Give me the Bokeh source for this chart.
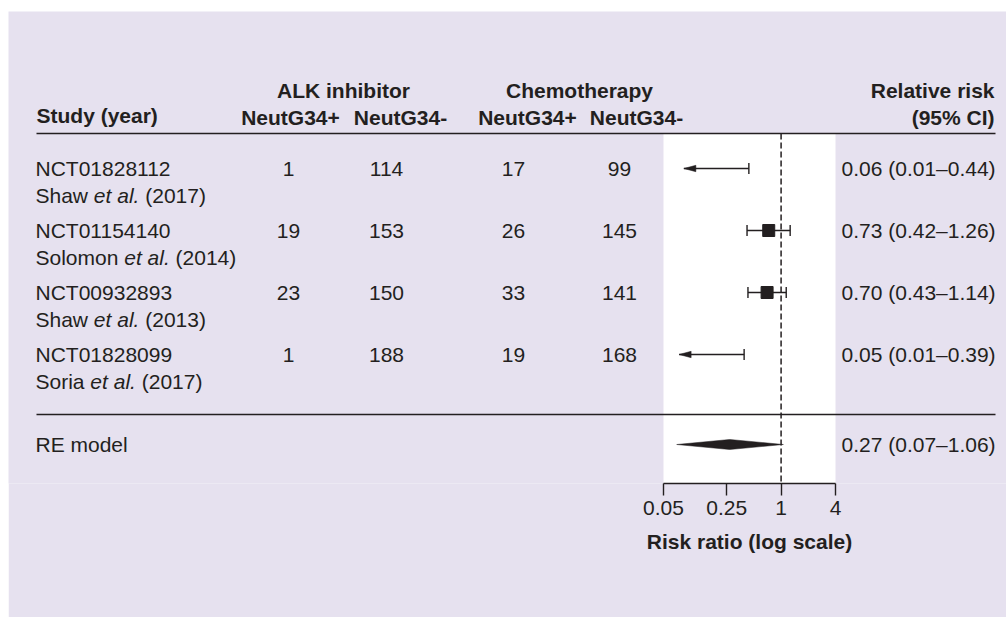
import math
from bokeh.plotting import figure
from bokeh.models import Range1d, LogScale, LogAxis, FixedTicker, Title
from bokeh.core.properties import value
from bokeh.embed import file_html
from bokeh.resources import INLINE

# ---------------- data ----------------
trial_ids = ["NCT01828112", "NCT01154140", "NCT00932893", "NCT01828099"]
authors = ["Shaw", "Solomon", "Shaw", "Soria"]
years = [2017, 2014, 2013, 2017]
alk_pos = [1, 19, 23, 1]
alk_neg = [114, 153, 150, 188]
chemo_pos = [17, 26, 33, 19]
chemo_neg = [99, 145, 141, 168]
rr_est = [0.06, 0.73, 0.70, 0.05]
rr_lo = [0.01, 0.42, 0.43, 0.01]
rr_hi = [0.44, 1.26, 1.14, 0.39]
re_label = "RE model"
re_est, re_lo, re_hi = 0.27, 0.07, 1.06
tick_values = [0.05, 0.25, 1, 4]
tick_labels = ["0.05", "0.25", "1", "4"]
axis_title = "Risk ratio (log scale)"

# ---------------- style / layout ----------------
W, H = 998, 606
FONT = "Liberation Sans"
INK = "#231F20"
BG = "#E6E1EF"
FS = "21px"
FS_PX = 21
FRAME_H = 472
ROW0_PX, ROW_STEP = 157, 62


def row_of(px):
    return (px - ROW0_PX) / ROW_STEP


# Arial / Liberation Sans advance widths (units per 1000 em)
AW = {" ": 278, "(": 333, ")": 333, ".": 278, "S": 667, "h": 556, "a": 556,
      "w": 722, "o": 556, "l": 222, "m": 833, "n": 556, "r": 333, "i": 222,
      "e": 556, "t": 278}
AWB = {" ": 278, "(": 333, ")": 333, "R": 722, "i": 278, "s": 556, "k": 556,
       "r": 389, "a": 556, "t": 333, "o": 611, "l": 278, "g": 611, "c": 556, "e": 556}


def text_w(s, table=AW):
    return sum(table.get(c, 556) for c in s) * FS_PX / 1000.0


p = figure(width=W, height=H, output_backend="svg", toolbar_location=None,
           x_axis_type=None, y_axis_type=None, margin=(11, 0, 0, 8),
           x_range=Range1d(0, W), y_range=Range1d(row_of(FRAME_H), row_of(0)),
           min_border_left=0, min_border_right=0, min_border_top=0,
           min_border_bottom=H - FRAME_H,
           background_fill_color=BG, border_fill_color=BG, outline_line_color=None)

# log-scale forest range occupying a fixed pixel span of the frame
AX_LO, AX_HI = tick_values[0], tick_values[-1]
FP0, FP1 = 655, 827
ppl = (FP1 - FP0) / math.log(AX_HI / AX_LO)
p.extra_x_ranges = {"rr": Range1d(AX_LO * math.exp(-FP0 / ppl), AX_HI * math.exp((W - FP1) / ppl))}
p.extra_x_scales = {"rr": LogScale()}

HEAD_LINE = row_of(122)
SEP = row_of(403)
RE_ROW = row_of(433)
BOTTOM = row_of(FRAME_H)

# white forest panel
p.quad(left=[AX_LO], right=[AX_HI], top=[HEAD_LINE], bottom=[BOTTOM], x_range_name="rr",
       fill_color="white", line_color=None)

# horizontal rules
p.segment(x0=[28, 28], x1=[987, 987], y0=[HEAD_LINE, SEP], y1=[HEAD_LINE, SEP],
          line_color=INK, line_width=1.5)

# null line
p.segment(x0=[1], x1=[1], y0=[HEAD_LINE], y1=[BOTTOM], x_range_name="rr",
          line_color=INK, line_width=1.5, line_dash="6 3")

rows = list(range(len(trial_ids)))
full = [i for i in rows if rr_lo[i] >= AX_LO]
trunc = [i for i in rows if rr_lo[i] < AX_LO]

# full CIs
p.segment(x0=[rr_lo[i] for i in full], x1=[rr_hi[i] for i in full],
          y0=[rows[i] for i in full], y1=[rows[i] for i in full], x_range_name="rr",
          line_color=INK, line_width=1.4)
cap_x = [rr_lo[i] for i in full] + [rr_hi[i] for i in full] + [rr_hi[i] for i in trunc]
cap_y = [rows[i] for i in full] * 2 + [rows[i] for i in trunc]
p.scatter(x=cap_x, y=cap_y, marker="dash", angle=math.pi / 2, size=11, x_range_name="rr",
          line_color=INK, line_width=1.4)
p.scatter(x=[rr_est[i] for i in full], y=[rows[i] for i in full], marker="square", size=12,
          x_range_name="rr", fill_color=INK, line_color=INK)

# truncated CIs -> arrows
ARROW_PX, HEAD_L, HEAD_HW = 65, 12, 3.2
tips = [rr_hi[i] * math.exp(-ARROW_PX / ppl) for i in trunc]
p.segment(x0=tips, x1=[rr_hi[i] for i in trunc], y0=[rows[i] for i in trunc],
          y1=[rows[i] for i in trunc], x_range_name="rr", line_color=INK, line_width=1.4)
p.patches(xs=[[t, t * math.exp(HEAD_L / ppl), t * math.exp(HEAD_L / ppl)] for t in tips],
          ys=[[rows[i], rows[i] - HEAD_HW / ROW_STEP, rows[i] + HEAD_HW / ROW_STEP] for i in trunc],
          x_range_name="rr", fill_color=INK, line_color=INK, line_width=0.5)

# RE diamond
dh = 5 / ROW_STEP
p.patch(x=[re_lo, re_est, re_hi, re_est], y=[RE_ROW, RE_ROW - dh, RE_ROW, RE_ROW + dh],
        x_range_name="rr", fill_color=INK, line_color=INK, line_width=0.5)


def txt(x, y, s, align="left", style="normal"):
    p.text(x=x, y=y, text=s, text_font=value(FONT), text_font_size=FS,
           text_font_style=style, text_color=INK, text_align=align, text_baseline="middle")


# header
H1, H2 = row_of(79), row_of(105.5)
txt([28], [row_of(104)], ["Study (year)"], style="bold")
txt([335, 571], [H1, H1], ["ALK inhibitor", "Chemotherapy"], "center", "bold")
txt([282, 392, 519, 628], [H2] * 4, ["NeutG34+", "NeutG34-", "NeutG34+", "NeutG34-"], "center", "bold")
txt([986, 986], [H1, H2], ["Relative risk", "(95% CI)"], "right", "bold")

# study names
X0 = 27
L2 = 27 / ROW_STEP
txt([X0] * len(rows), rows, trial_ids)
txt([X0] * len(rows), [r + L2 for r in rows], authors)
ital_x = [X0 + text_w(a + " ") for a in authors]
txt(ital_x, [r + L2 for r in rows], ["et al."] * len(rows), style="italic")
yr_x = [x + text_w("et al. ") for x in ital_x]
txt(yr_x, [r + L2 for r in rows], [f"({y})" for y in years])

# counts
for cx, col in zip([280, 378, 505, 611], [alk_pos, alk_neg, chemo_pos, chemo_neg]):
    txt([cx] * len(rows), rows, [str(v) for v in col], "center")

# relative risk texts
txt([833] * len(rows), rows,
    [f"{e:.2f} ({l:.2f}\u2013{h:.2f})" for e, l, h in zip(rr_est, rr_lo, rr_hi)])
txt([X0], [RE_ROW], [re_label])
txt([833], [RE_ROW], [f"{re_est:.2f} ({re_lo:.2f}\u2013{re_hi:.2f})"])

# log axis
ax = LogAxis(x_range_name="rr", bounds=(AX_LO, AX_HI),
             ticker=FixedTicker(ticks=tick_values),
             major_label_overrides={v: s for v, s in zip(tick_values, tick_labels)})
ax.axis_line_color = INK
ax.axis_line_width = 1.4
ax.major_tick_line_color = INK
ax.major_tick_line_width = 1.4
ax.major_tick_in = 0
ax.major_tick_out = 12
ax.minor_tick_line_color = None
ax.major_label_text_font = FONT
ax.major_label_text_font_size = FS
ax.major_label_text_color = INK
ax.major_label_standoff = 5
p.add_layout(ax, "below")

# axis title centred under the forest axis
t = Title(text=axis_title, align="left", offset=(FP0 + FP1) / 2 - text_w(axis_title, AWB) / 2,
          text_font=FONT, text_font_size=FS, text_font_style="bold", text_color=INK,
          standoff=20)
p.add_layout(t, "below")

open("out.html", "w").write(file_html(p, INLINE))
